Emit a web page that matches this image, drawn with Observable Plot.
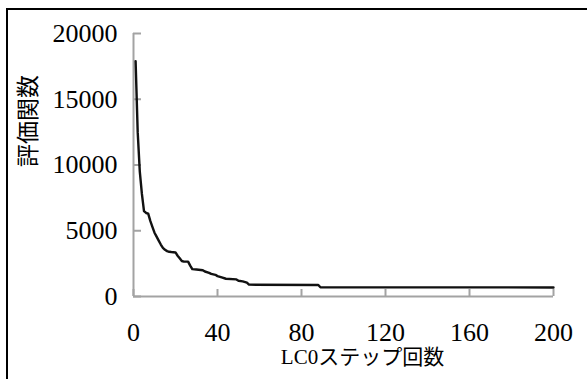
<!DOCTYPE html>
<html>
<head>
<meta charset="utf-8">
<script src="https://cdn.jsdelivr.net/npm/d3@7"></script>
<script src="https://cdn.jsdelivr.net/npm/@observablehq/plot@0.6"></script>
<style>
  html, body { margin: 0; padding: 0; background: #fff; }
  #wrap { position: relative; width: 587px; height: 379px; overflow: hidden; }
  #frame { position: absolute; left: 6px; top: 8px; width: 600px; height: 400px;
           border-left: 2.5px solid #000; border-top: 2.5px solid #000; box-sizing: border-box; pointer-events: none; }
  #chart { position: absolute; left: 0; top: 0; }
</style>
</head>
<body>
<div id="wrap"><div id="chart"></div><div id="frame"></div></div>
<script>
// LCO step number
const steps = [1,2,3,4,5,6,7,8,9,10,11,12,13,14,15,16,17,18,20,21,22,23,24,26,27,28,30,33,34,36,37,39,40,42,44,49,50,52,54,55,88,89,200];
// evaluation function value
const values = [17900,12500,9500,7800,6500,6350,6300,5750,5300,4850,4550,4250,3950,3700,3550,3450,3400,3380,3350,3100,2900,2700,2650,2650,2350,2080,2050,2000,1900,1800,1720,1650,1550,1450,1350,1300,1200,1150,1050,900,880,700,690];
const xTicks = [0,40,80,120,160,200];
const yTicks = [0,5000,10000,15000,20000];
const xTitle = "LC0ステップ回数";
const yTitle = "評価関数";

const data = steps.map((s, i) => ({step: s, value: values[i]}));
const axisGray = "#a3a3a3";
const numFont = "Liberation Serif";

const chart = Plot.plot({
  width: 587,
  height: 379,
  marginLeft: 133,
  marginRight: 34,
  marginTop: 33,
  marginBottom: 83,
  style: {background: "#fff", fontFamily: numFont},
  x: {domain: [0, 200]},
  y: {domain: [0, 20000]},
  marks: [
    Plot.ruleX([0], {stroke: axisGray, strokeWidth: 2}),
    Plot.ruleY([0], {stroke: axisGray, strokeWidth: 2}),
    Plot.axisY({ticks: yTicks, tickSize: -8, text: null, stroke: axisGray, strokeWidth: 2, label: null}),
    Plot.axisY({ticks: yTicks, tickSize: 0, tickPadding: 16, tickFormat: d => String(d), fontSize: 26, fill: "#000", fontFamily: numFont, label: null}),
    Plot.axisX({ticks: xTicks, tickSize: -7, text: null, stroke: axisGray, strokeWidth: 2, label: null}),
    Plot.axisX({ticks: xTicks, tickSize: 0, tickPadding: 26, tickFormat: d => String(d), fontSize: 26, fill: "#000", fontFamily: numFont, label: null}),
    Plot.line(data, {x: "step", y: "value", stroke: "#111", strokeWidth: 2.4, strokeLinejoin: "round", strokeLinecap: "round"}),
    Plot.text([xTitle], {frameAnchor: "bottom", dx: 19, dy: 67, fontSize: 21, fill: "#000", fontFamily: "Liberation Serif, Noto Sans CJK JP"}),
    Plot.text([yTitle], {frameAnchor: "left", rotate: -90, dx: -105, dy: 2, fontSize: 23, fill: "#000", fontFamily: "Noto Sans CJK JP"})
  ]
});
document.getElementById("chart").appendChild(chart);
</script>
</body>
</html>
